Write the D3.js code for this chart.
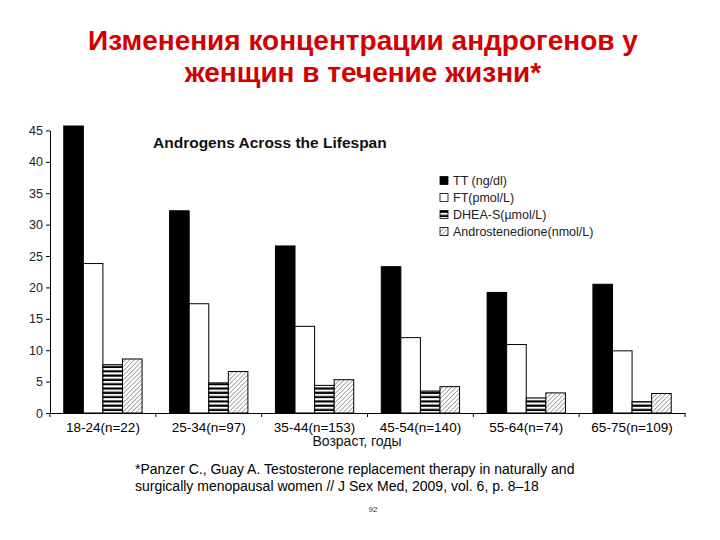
<!DOCTYPE html>
<html>
<head>
<meta charset="utf-8">
<script src="https://cdn.jsdelivr.net/npm/d3@7"></script>
<style>
  body { margin: 0; background: #fff; }
  svg { display: block; font-family: "Liberation Sans", Arial, sans-serif; }
</style>
</head>
<body>
<script>
// data
const groups = ["18-24(n=22)", "25-34(n=97)", "35-44(n=153)", "45-54(n=140)", "55-64(n=74)", "65-75(n=109)"];
const series = ["TT (ng/dl)", "FT(pmol/L)", "DHEA-S(µmol/L)", "Androstenedione(nmol/L)"];
const tt    = [45.7, 32.2, 26.6, 23.3, 19.2, 20.5];
const ft    = [23.8, 17.4, 13.8, 12.0, 10.9, 9.9];
const dhea  = [7.7, 4.8, 4.4, 3.5, 2.4, 1.8];
const andro = [8.6, 6.6, 5.3, 4.2, 3.2, 3.1];
const yTicks = [0, 5, 10, 15, 20, 25, 30, 35, 40, 45];

const values = [tt, ft, dhea, andro];

const width = 720, height = 540;
const plot = {left: 50, right: 685, top: 130.4, bottom: 413};

const svg = d3.select("body").append("svg")
    .attr("width", width)
    .attr("height", height);

// patterns
const defs = svg.append("defs");
const stripes = defs.append("pattern")
    .attr("id", "stripes")
    .attr("patternUnits", "userSpaceOnUse")
    .attr("width", 8).attr("height", 4.3);
stripes.append("rect").attr("width", 8).attr("height", 4.3).attr("fill", "#fff");
stripes.append("rect").attr("y", 0.4).attr("width", 8).attr("height", 2.2).attr("fill", "#000");

const hatch = defs.append("pattern")
    .attr("id", "hatch")
    .attr("patternUnits", "userSpaceOnUse")
    .attr("width", 3.2).attr("height", 3.2)
    .attr("patternTransform", "rotate(45)");
hatch.append("rect").attr("width", 3.2).attr("height", 3.2).attr("fill", "#fff");
hatch.append("line").attr("x1", 0).attr("y1", 0).attr("x2", 0).attr("y2", 3.2)
    .attr("stroke", "#444").attr("stroke-width", 0.9);

const fills = ["#000", "#fff", "url(#stripes)", "url(#hatch)"];

// scales
const x0 = d3.scaleBand().domain(groups).range([plot.left, plot.right])
    .paddingInner(0.26).paddingOuter(0.13);
const x1 = d3.scaleBand().domain(series).range([0, x0.bandwidth()]);
const y = d3.scaleLinear().domain([0, 45]).range([plot.bottom, plot.top]);

// page title
const title = svg.append("text")
    .attr("x", 363).attr("text-anchor", "middle")
    .style("font-size", "28px").style("font-weight", "bold")
    .attr("fill", "#d40000");
title.append("tspan").attr("x", 363).attr("y", 50).text("Изменения концентрации андрогенов у");
title.append("tspan").attr("x", 363).attr("y", 82).text("женщин в течение жизни*");

// chart title
svg.append("text")
    .attr("x", 153).attr("y", 148)
    .style("font-size", "15.5px").style("font-weight", "bold")
    .attr("fill", "#111")
    .text("Androgens Across the Lifespan");

// bars
const g = svg.append("g").selectAll("g")
    .data(groups)
    .join("g")
    .attr("transform", d => "translate(" + x0(d) + ",0)");

g.selectAll("rect")
    .data((d, i) => series.map((s, j) => ({s: s, v: values[j][i], j: j})))
    .join("rect")
    .attr("x", d => x1(d.s))
    .attr("y", d => y(d.v))
    .attr("width", x1.bandwidth())
    .attr("height", d => y(0) - y(d.v))
    .attr("fill", d => fills[d.j])
    .attr("stroke", "#000")
    .attr("stroke-width", 1);

// y axis
svg.append("g")
    .attr("transform", "translate(" + plot.left + ",0)")
    .call(d3.axisLeft(y).tickValues(yTicks).tickSize(4).tickSizeOuter(0).tickPadding(3))
    .call(a => a.selectAll("text").style("font-size", "12.5px").attr("fill", "#222"))
    .call(a => a.select(".domain").attr("stroke", "#000"));

// x axis
const xa = svg.append("g")
    .attr("transform", "translate(0," + plot.bottom + ")")
    .call(d3.axisBottom(x0).tickSize(0).tickSizeOuter(0).tickPadding(9));
xa.select(".domain").attr("stroke", "#000");
xa.selectAll("text").style("font-size", "13.5px").attr("fill", "#000");
xa.selectAll(".boundary")
    .data(d3.range(groups.length + 1))
    .join("line")
    .attr("class", "boundary")
    .attr("x1", i => plot.left + i * x0.step())
    .attr("x2", i => plot.left + i * x0.step())
    .attr("y1", 0).attr("y2", 4)
    .attr("stroke", "#000");

svg.append("text")
    .attr("x", 357).attr("y", 446)
    .attr("text-anchor", "middle")
    .style("font-size", "14px")
    .attr("fill", "#111")
    .text("Возраст, годы");

// legend
const leg = svg.append("g").selectAll("g")
    .data(series)
    .join("g")
    .attr("transform", (d, i) => "translate(440," + (180.5 + i * 17) + ")");
leg.append("rect")
    .attr("x", 0).attr("y", -4).attr("width", 8).attr("height", 8)
    .attr("fill", (d, i) => fills[i])
    .attr("stroke", "#000").attr("stroke-width", 0.8);
leg.append("text")
    .attr("x", 13).attr("dy", "0.35em")
    .style("font-size", "12.5px")
    .attr("fill", "#222")
    .text(d => d);

// footnote
const note = svg.append("text")
    .style("font-size", "14px")
    .attr("fill", "#000");
note.append("tspan").attr("x", 135).attr("y", 474)
    .text("*Panzer C., Guay A. Testosterone replacement therapy in naturally and");
note.append("tspan").attr("x", 135).attr("y", 491)
    .text("surgically menopausal women // J Sex Med, 2009, vol. 6, p. 8–18");

svg.append("text")
    .attr("x", 373).attr("y", 512)
    .attr("text-anchor", "middle")
    .style("font-size", "8px")
    .attr("fill", "#333")
    .text("92");
</script>
</body>
</html>
